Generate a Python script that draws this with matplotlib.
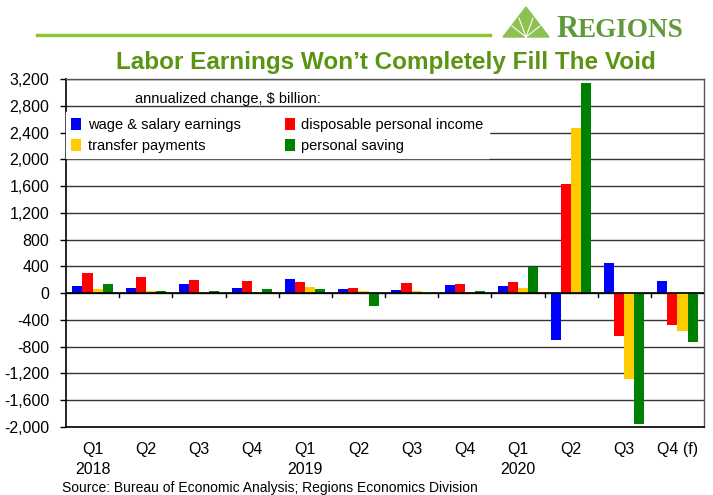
import numpy as np
import matplotlib
matplotlib.use("Agg")
import matplotlib.pyplot as plt
from matplotlib.patches import Polygon
from matplotlib.lines import Line2D

plt.rcParams['font.family'] = ['Liberation Sans', 'DejaVu Sans']

quarters = ['Q1\n2018', 'Q2', 'Q3', 'Q4', 'Q1\n2019', 'Q2', 'Q3', 'Q4',
            'Q1\n2020', 'Q2', 'Q3', 'Q4 (f)']
wages = [100, 80, 130, 70, 210, 55, 45, 115, 110, -695, 450, 185]
disposable = [305, 235, 195, 175, 165, 70, 155, 140, 170, 1625, -645, -480]
transfers = [55, 25, 10, 10, 90, 30, 35, 10, 80, 2470, -1290, -565]
saving = [130, 25, 25, 55, 65, -185, -20, 25, 395, 3140, -1950, -735]

series = [('wage & salary earnings', wages, '#0000ff'),
          ('disposable personal income', disposable, '#ff0000'),
          ('transfer payments', transfers, '#ffcc00'),
          ('personal saving', saving, '#008000')]

W, H = 713, 495
fig = plt.figure(figsize=(W / 100, H / 100), dpi=100)
ax = fig.add_axes([66/W, 1-427/H, 638/W, 348/H])

x = np.arange(len(quarters))
w = 0.19
bars = []
for i, (name, vals, col) in enumerate(series):
    bars.append(ax.bar(x + (i - 1.5) * w, vals, w, color=col, label=name, zorder=3))

ax.set_xlim(-0.5, len(quarters) - 0.5)
ax.set_ylim(-2000, 3200)
yt = np.arange(-2000, 3201, 400)
ax.set_yticks(yt)
ax.set_yticklabels(['{:,}'.format(v) for v in yt], fontsize=11.5)
ax.yaxis.grid(True, color='#333333', linewidth=1)
ax.set_axisbelow(True)
ax.tick_params(axis='y', direction='out', length=4, width=1, pad=8)

ax.set_xticks(x)
ax.set_xticklabels(quarters, fontsize=11.5, linespacing=1.4, va='top')
ax.tick_params(axis='x', length=0, pad=11)
ax.axhline(0, color='black', linewidth=1.2, zorder=4)
# small ticks between groups on the zero line
for b in np.arange(0.5, len(quarters) - 1, 1):
    ax.plot([b, b], [0, -55], color='black', linewidth=1, zorder=4)

for s in ['left', 'bottom']:
    ax.spines[s].set_color('black')
    ax.spines[s].set_linewidth(1.2)
for s in ['top', 'right']:
    ax.spines[s].set_color('#555555')
    ax.spines[s].set_linewidth(1)

# row order: wage, disposable / transfer, saving
order = [0, 2, 1, 3]
leg = ax.legend([bars[i] for i in order], [series[i][0] for i in order],
                ncol=2, loc='upper left', bbox_to_anchor=(0.0, 0.904),
                fontsize=10.5, frameon=True, fancybox=False, framealpha=1,
                edgecolor='white', handlelength=0.7, handleheight=0.9,
                handletextpad=0.45, columnspacing=3.0, borderpad=0.35,
                labelspacing=0.5, borderaxespad=0)
leg.set_zorder(5)
ax.text(0.108, 0.9425, 'annualized change, $ billion:', transform=ax.transAxes,
        fontsize=10.5, va='center', ha='left')

fig.text(386/W, 1-62/H, 'Labor Earnings Won\u2019t Completely Fill The Void',
         ha='center', va='center', fontsize=17.5, fontweight='bold', color='#5a9410')

# header line and logo
fig.add_artist(Line2D([37/W, 490/W], [1-35/H, 1-35/H], color='#8cc63f',
                      linewidth=2.5))
tri = Polygon([[503/W, 1-37/H], [526/W, 1-7/H], [549/W, 1-37/H]],
              closed=True, color='#8dc150', transform=fig.transFigure)
fig.add_artist(tri)
for ex, ey in [(512, 26), (519, 18), (533, 18), (540, 26)]:
    fig.add_artist(Line2D([526/W, ex/W], [1-37/H, 1-ey/H], color='white',
                          linewidth=0.8))
logo_col = '#5f9a3a'
fig.text(556/W, 1-37/H, 'R', fontsize=22, family=['Liberation Serif'],
         fontweight='bold', color=logo_col, va='baseline', ha='left')
fig.text(578/W, 1-37/H, 'EGIONS', fontsize=19.5, family=['Liberation Serif'],
         fontweight='bold', color=logo_col, va='baseline', ha='left')

fig.text(62/W, 1-488/H, 'Source: Bureau of Economic Analysis; Regions Economics Division',
         fontsize=10, va='center', ha='left')

fig.savefig('out.png', dpi=100)
